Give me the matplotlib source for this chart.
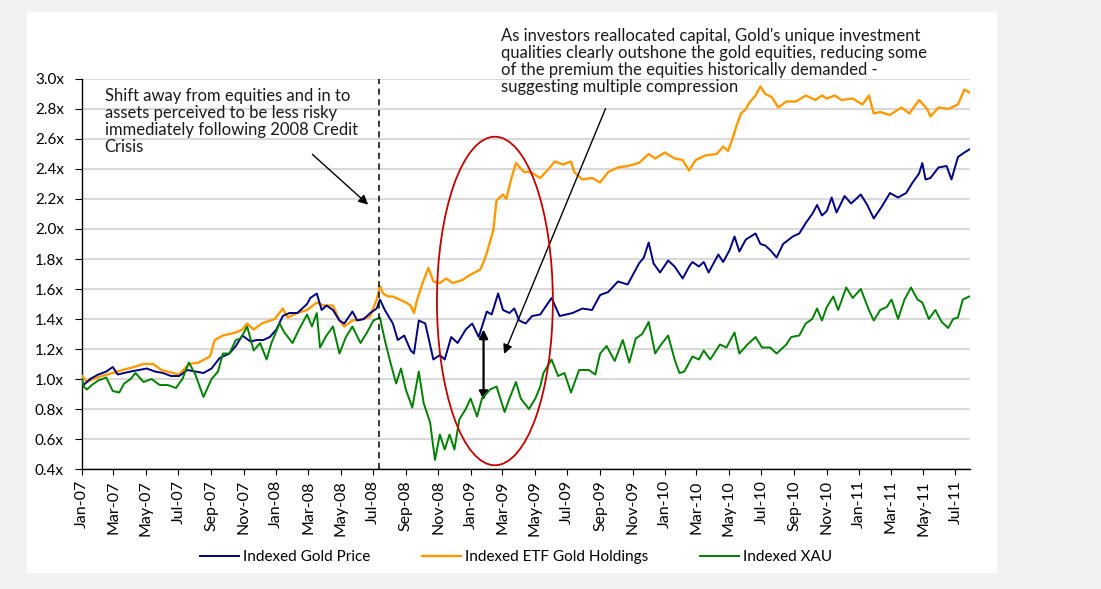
import numpy as np
import pandas as pd
import matplotlib
matplotlib.use("Agg")
from matplotlib import pyplot as plt
import matplotlib.dates as mdates
from matplotlib.patches import Ellipse, Rectangle

plt.rcParams['font.family'] = ['Lato', 'DejaVu Sans']

# Values; x = months since Jan-2007
gold_m = [0.0, 0.1, 0.5, 1.0, 1.5, 1.9, 2.2, 2.6, 3.0, 3.5, 4.0, 4.5, 5.0, 5.5, 6.0, 6.5, 7.0, 7.5, 8.0, 8.5,
          9.1, 9.5, 9.9, 10.4, 10.8, 11.2, 11.6, 12.0, 12.4, 12.8, 13.3, 13.9, 14.1, 14.5, 14.8, 15.1, 15.5,
          15.9, 16.2, 16.7, 17.0, 17.4, 17.8, 18.2, 18.4, 18.7, 19.2, 19.5, 19.9, 20.3, 20.5, 20.8, 21.2,
          21.7, 22.1, 22.4, 22.8, 23.2, 23.7, 24.1, 24.5, 25.0, 25.3, 25.7, 26.0, 26.4, 26.7, 27.0, 27.4,
          27.8, 28.3, 29.0, 29.5, 30.3, 30.9, 31.5, 32.0, 32.5, 33.1, 33.7, 34.4, 34.7, 35.0, 35.3, 35.7,
          36.2, 36.6, 37.1, 37.5, 37.7, 38.1, 38.4, 38.7, 39.3, 39.6, 40.0, 40.3, 40.6, 41.0, 41.6, 41.9,
          42.2, 42.5, 42.9, 43.3, 43.9, 44.3, 44.7, 45.1, 45.4, 45.7, 46.0, 46.3, 46.6, 47.1, 47.5, 48.1,
          48.5, 48.9, 49.4, 49.9, 50.4, 50.9, 51.3, 51.7, 51.9, 52.1, 52.4, 52.9, 53.4, 53.7, 54.1, 54.5, 54.8]
gold_v = [0.99, 0.96, 1.00, 1.03, 1.05, 1.08, 1.03, 1.04, 1.05, 1.06, 1.07, 1.05, 1.04, 1.02, 1.02, 1.06, 1.05, 1.04, 1.07, 1.14,
          1.17, 1.22, 1.29, 1.25, 1.26, 1.26, 1.28, 1.33, 1.42, 1.44, 1.44, 1.50, 1.54, 1.57, 1.46, 1.49, 1.46,
          1.39, 1.37, 1.45, 1.39, 1.40, 1.44, 1.47, 1.53, 1.46, 1.37, 1.26, 1.29, 1.19, 1.17, 1.39, 1.37,
          1.13, 1.16, 1.13, 1.28, 1.24, 1.33, 1.37, 1.28, 1.45, 1.43, 1.57, 1.46, 1.44, 1.47, 1.39, 1.37,
          1.42, 1.43, 1.54, 1.42, 1.44, 1.47, 1.46, 1.56, 1.58, 1.65, 1.63, 1.77, 1.81, 1.91, 1.77, 1.71,
          1.79, 1.75, 1.67, 1.75, 1.78, 1.75, 1.78, 1.71, 1.83, 1.78, 1.86, 1.95, 1.85, 1.93, 1.97, 1.90,
          1.89, 1.86, 1.81, 1.90, 1.95, 1.97, 2.04, 2.10, 2.16, 2.09, 2.12, 2.21, 2.11, 2.22, 2.17, 2.23,
          2.16, 2.07, 2.15, 2.24, 2.21, 2.24, 2.31, 2.37, 2.44, 2.33, 2.34, 2.41, 2.42, 2.33, 2.48, 2.51, 2.53]

etf_m = [0.0, 0.3, 0.7, 1.2, 1.9, 2.5, 3.2, 3.8, 4.4, 4.9, 5.6, 6.0, 6.6, 7.2, 7.9, 8.2, 8.7, 9.5, 9.9, 10.2,
         10.6, 11.1, 11.9, 12.4, 12.7, 13.3, 13.9, 14.5, 14.9, 15.5, 15.9, 16.2, 16.7, 17.4, 17.8, 18.2, 18.4,
         18.6, 18.9, 19.2, 19.6, 20.0, 20.3, 20.5, 20.7, 21.1, 21.4, 21.7, 22.1, 22.5, 22.9, 23.5, 23.9, 24.6,
         24.8, 25.0, 25.4, 25.6, 26.0, 26.2, 26.5, 26.8, 27.3, 27.7, 28.3, 28.9, 29.2, 29.7, 30.2, 30.4, 30.9,
         31.5, 32.0, 32.5, 33.1, 33.7, 34.4, 35.0, 35.4, 36.0, 36.6, 37.1, 37.2, 37.5, 37.9, 38.5, 39.2, 39.6,
         39.9, 40.2, 40.4, 40.7, 41.0, 41.2, 41.6, 41.9, 42.2, 42.6, 43.0, 43.5, 44.1, 44.7, 45.3, 45.7, 46.0,
         46.5, 46.9, 47.6, 48.2, 48.6, 48.9, 49.3, 49.9, 50.6, 51.1, 51.7, 52.2, 52.4, 52.9, 53.5, 54.1, 54.5, 54.8]
etf_v = [1.02, 0.98, 1.00, 1.02, 1.04, 1.06, 1.08, 1.10, 1.10, 1.06, 1.04, 1.03, 1.10, 1.11, 1.15, 1.26, 1.29, 1.31, 1.33, 1.37,
         1.33, 1.37, 1.40, 1.47, 1.41, 1.44, 1.46, 1.51, 1.49, 1.49, 1.39, 1.35, 1.39, 1.40, 1.42, 1.53, 1.62,
         1.57, 1.55, 1.55, 1.53, 1.51, 1.49, 1.44, 1.53, 1.66, 1.74, 1.65, 1.64, 1.67, 1.64, 1.66, 1.69, 1.73,
         1.78, 1.84, 1.99, 2.19, 2.23, 2.20, 2.33, 2.44, 2.38, 2.38, 2.34, 2.41, 2.45, 2.43, 2.45, 2.38, 2.33,
         2.34, 2.31, 2.38, 2.41, 2.42, 2.44, 2.50, 2.47, 2.51, 2.47, 2.46, 2.44, 2.39, 2.46, 2.49, 2.50, 2.55,
         2.52, 2.61, 2.68, 2.77, 2.80, 2.84, 2.89, 2.95, 2.90, 2.88, 2.81, 2.85, 2.85, 2.89, 2.86, 2.89, 2.87,
         2.89, 2.86, 2.87, 2.83, 2.89, 2.77, 2.78, 2.76, 2.81, 2.77, 2.86, 2.80, 2.75, 2.81, 2.80, 2.83, 2.93, 2.91]

xau_m = [0.0, 0.1, 0.3, 0.6, 1.0, 1.5, 1.9, 2.3, 2.6, 3.0, 3.3, 3.8, 4.3, 4.8, 5.3, 5.8, 6.2, 6.6, 7.0, 7.5,
         8.0, 8.4, 8.7, 9.1, 9.5, 9.8, 10.2, 10.6, 11.0, 11.4, 11.7, 12.2, 12.5, 13.0, 13.4, 13.9, 14.2, 14.5,
         14.7, 15.1, 15.5, 15.9, 16.3, 16.7, 17.2, 17.6, 18.0, 18.4, 18.7, 19.0, 19.4, 19.7, 20.0, 20.4, 20.8,
         21.1, 21.5, 21.8, 22.1, 22.4, 22.7, 23.0, 23.3, 23.7, 24.0, 24.4, 24.7, 25.2, 25.6, 26.1, 26.4, 26.8,
         27.1, 27.6, 28.0, 28.3, 28.5, 29.0, 29.4, 29.8, 30.2, 30.7, 31.3, 31.7, 32.0, 32.4, 32.9, 33.4, 33.8,
         34.2, 34.6, 35.0, 35.4, 35.7, 36.2, 36.6, 36.9, 37.2, 37.7, 38.1, 38.4, 38.8, 39.4, 39.8, 40.3, 40.6,
         41.1, 41.6, 42.0, 42.5, 42.9, 43.5, 43.8, 44.3, 44.7, 45.1, 45.4, 45.7, 46.0, 46.4, 46.7, 47.2, 47.6,
         48.1, 48.6, 48.9, 49.3, 49.7, 50.0, 50.4, 50.8, 51.2, 51.6, 51.9, 52.3, 52.7, 53.1, 53.5, 53.8, 54.1,
         54.4, 54.8]
xau_v = [1.00, 0.95, 0.93, 0.96, 0.99, 1.01, 0.92, 0.91, 0.97, 1.00, 1.04, 0.98, 1.00, 0.96, 0.96, 0.94, 1.00, 1.11, 1.03, 0.88,
         1.00, 1.05, 1.17, 1.17, 1.26, 1.27, 1.35, 1.19, 1.24, 1.13, 1.24, 1.37, 1.31, 1.24, 1.33, 1.43, 1.35, 1.44,
         1.21, 1.29, 1.35, 1.17, 1.28, 1.35, 1.24, 1.31, 1.39, 1.41, 1.26, 1.13, 0.97, 1.07, 0.93, 0.81, 1.05,
         0.84, 0.71, 0.46, 0.63, 0.53, 0.63, 0.53, 0.73, 0.80, 0.87, 0.75, 0.87, 0.93, 0.95, 0.78, 0.87, 0.98,
         0.87, 0.80, 0.87, 0.95, 1.04, 1.13, 1.02, 1.04, 0.91, 1.06, 1.06, 1.03, 1.17, 1.22, 1.12, 1.26, 1.11,
         1.27, 1.30, 1.38, 1.17, 1.22, 1.29, 1.13, 1.04, 1.05, 1.15, 1.13, 1.19, 1.13, 1.23, 1.21, 1.31, 1.17,
         1.23, 1.28, 1.21, 1.21, 1.17, 1.23, 1.28, 1.29, 1.37, 1.40, 1.47, 1.39, 1.48, 1.55, 1.46, 1.61, 1.54,
         1.60, 1.46, 1.39, 1.46, 1.48, 1.53, 1.40, 1.53, 1.61, 1.53, 1.51, 1.40, 1.46, 1.38, 1.34, 1.40, 1.41,
         1.53, 1.55]

y_ticks = [0.4, 0.6, 0.8, 1.0, 1.2, 1.4, 1.6, 1.8, 2.0, 2.2, 2.4, 2.6, 2.8, 3.0]

START = pd.Timestamp("2007-01-01")


def to_dates(months):
    # fractional months since Jan-2007 -> datetimes
    return START + pd.to_timedelta(np.asarray(months) * 30.4375, unit="D")


fig = plt.figure(figsize=(11.01, 5.89), dpi=100)
fig.patch.set_facecolor("#f2f2f2")
fig.add_artist(Rectangle((0.0245, 0.027), 0.881, 0.9525, transform=fig.transFigure,
                         facecolor="white", edgecolor="none", zorder=0))

ax = fig.add_axes([0.0745, 0.2037, 0.8066, 0.6622])
ax.set_facecolor("none")

ax.plot(to_dates(gold_m), gold_v, color="#000080", lw=1.4, label="Indexed Gold Price", zorder=4)
ax.plot(to_dates(etf_m), etf_v, color="#ff9900", lw=1.7, label="Indexed ETF Gold Holdings", zorder=3)
ax.plot(to_dates(xau_m), xau_v, color="#008000", lw=1.4, label="Indexed XAU", zorder=4)

ax.set_ylim(0.4, 3.0)
ax.set_xlim(to_dates([0.0])[0], to_dates([54.85])[0])
ax.set_yticks(y_ticks)
ax.set_yticklabels([f"{t:.1f}x" for t in y_ticks])
ax.yaxis.grid(True, color="#d9d9d9", lw=1.5)
ax.set_axisbelow(True)

ax.xaxis.set_major_locator(mdates.MonthLocator(bymonth=[1, 3, 5, 7, 9, 11]))
ax.xaxis.set_major_formatter(mdates.DateFormatter("%b-%y"))
plt.setp(ax.get_xticklabels(), rotation=90)
ax.tick_params(axis="x", length=4, pad=4, labelsize=11.5, colors="black")
ax.tick_params(axis="y", length=5, pad=8, labelsize=11)
for s in ["top", "right"]:
    ax.spines[s].set_visible(False)
ax.spines["left"].set_linewidth(1.0)
ax.spines["bottom"].set_linewidth(1.0)

# dashed line marking the 2008 credit crisis
crisis = to_dates([18.35])[0]
ax.axvline(crisis, color="black", ls=(0, (4, 3)), lw=1.1, zorder=5)

ax.text(to_dates([1.4])[0], 2.94,
        "Shift away from equities and in to\nassets perceived to be less risky\n"
        "immediately following 2008 Credit\nCrisis",
        fontsize=12, va="top", ha="left", linespacing=1.08, color="#1a1a1a")
ax.annotate("", xy=(to_dates([17.8])[0], 2.15), xytext=(to_dates([14.1])[0], 2.51),
            arrowprops=dict(arrowstyle="-|>", color="black", lw=1.0, mutation_scale=14))

ax.text(to_dates([25.9])[0], 3.34,
        "As investors reallocated capital, Gold's unique investment\n"
        "qualities clearly outshone the gold equities, reducing some\n"
        "of the premium the equities historically demanded -\n"
        "suggesting multiple compression",
        fontsize=12, va="top", ha="left", linespacing=1.08, color="#1a1a1a", clip_on=False)
ax.annotate("", xy=(to_dates([26.0])[0], 1.15), xytext=(to_dates([32.4])[0], 2.82),
            arrowprops=dict(arrowstyle="-|>", color="black", lw=1.0, mutation_scale=14))

# gap between gold price and equities
gap_x = to_dates([24.8])[0]
ax.annotate("", xy=(gap_x, 0.86), xytext=(gap_x, 1.33),
            arrowprops=dict(arrowstyle="<|-|>", color="black", lw=1.6, mutation_scale=13,
                            shrinkA=0, shrinkB=0))

ell_c = mdates.date2num(to_dates([25.5])[0])
ax.add_patch(Ellipse((ell_c, 1.52), width=7.16 * 30.4375, height=2.19,
                     facecolor="none", edgecolor="#c00000", lw=1.3, zorder=6, clip_on=False))

fig.legend(loc="center", bbox_to_anchor=(0.469, 0.054), ncol=3, frameon=False,
           fontsize=11, handlelength=2.5, handletextpad=0.3, columnspacing=3.4)

fig.savefig("out.png", dpi=100, facecolor=fig.get_facecolor())
